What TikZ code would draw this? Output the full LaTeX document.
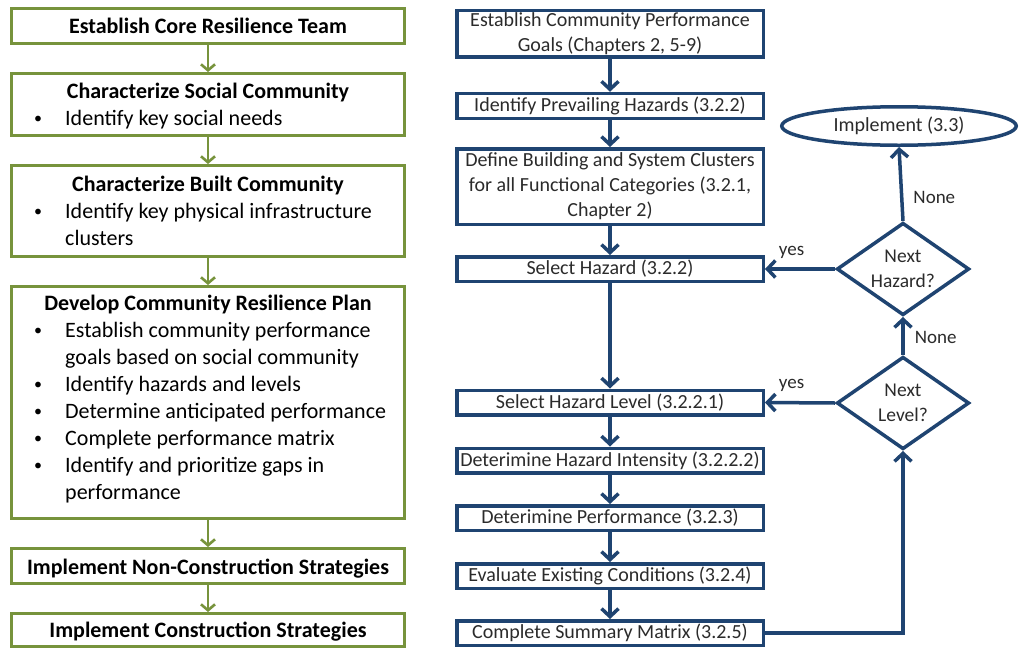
\documentclass[tikz,border=0pt]{standalone}
\usepackage{fontspec}
\setmainfont{Carlito}
\usetikzlibrary{arrows.meta,shapes.geometric}
\definecolor{leafgreen}{HTML}{77933C}
\definecolor{navy}{HTML}{1F4471}
\definecolor{inkgray}{HTML}{2B2B2B}

\begin{document}
\begin{tikzpicture}[x=1pt,y=-1pt,
  greenbox/.style={draw=leafgreen, line width=3pt, minimum width=393pt, inner sep=0pt},
  head/.style={font=\fontsize{22}{27}\selectfont\bfseries, anchor=base, inner sep=0pt, text=black},
  bodyline/.style={font=\fontsize{22}{27}\selectfont, anchor=base west, inner sep=0pt, text=black},
  bulletmark/.style={font=\fontsize{16}{20}\selectfont, anchor=base, inner sep=0pt, text=black, yshift=1.5pt},
  garrow/.style={draw=leafgreen, line width=2.6pt, -{Straight Barb[length=6pt,width=14pt]}},
  bluebox/.style={draw=navy, line width=3.5pt, minimum width=306.5pt, inner sep=0pt,
    align=center, font=\fontsize{20}{25}\selectfont, text=inkgray},
  decision/.style={draw=navy, line width=3.5pt, diamond, aspect=1.43, inner sep=0pt,
    minimum width=132.5pt, minimum height=92.5pt, align=center,
    font=\fontsize{19.5}{25}\selectfont, text=inkgray},
  terminal/.style={draw=navy, line width=3.5pt, ellipse, inner sep=0pt,
    minimum width=234.5pt, minimum height=38.5pt, font=\fontsize{20}{25}\selectfont, text=inkgray},
  barrow/.style={draw=navy, line width=3.5pt, -{Straight Barb[length=8pt,width=17pt]}},
  lbl/.style={font=\fontsize{19}{23}\selectfont, text=inkgray, inner sep=0pt}
]
\fill[white] (0,0) rectangle (1021,651);
\useasboundingbox (0,0) rectangle (1021,651);

% ---------- left column: community resilience planning steps ----------
\node[greenbox, minimum height=35pt] (L1) at (208,26) {};
\node[greenbox, minimum height=62pt] (L2) at (208,104.5) {};
\node[greenbox, minimum height=91pt] (L3) at (208,211) {};
\node[greenbox, minimum height=232pt] (L4) at (208,402.5) {};
\node[greenbox, minimum height=35pt] (L5) at (208,566) {};
\node[greenbox, minimum height=33pt] (L6) at (208,630) {};

\node[head] (h1) at (208,33) {Establish Core Resilience Team};

\node[head] (h2) at (208,98) {Characterize Social Community};
\node[bulletmark] (b2a) at (38,125) {•};
\node[bodyline] (t2a) at (65,125) {Identify key social needs};

\node[head] (h3) at (208,191) {Characterize Built Community};
\node[bulletmark] (b3a) at (38,218) {•};
\node[bodyline] (t3a) at (65,218) {Identify key physical infrastructure};
\node[bodyline] (t3b) at (65,245) {clusters};

\node[head] (h4) at (208,310) {Develop Community Resilience Plan};
\node[bulletmark] (b4a) at (38,337) {•};
\node[bodyline] (t4a) at (65,337) {Establish community performance};
\node[bodyline] (t4b) at (65,364) {goals based on social community};
\node[bulletmark] (b4c) at (38,391) {•};
\node[bodyline] (t4c) at (65,391) {Identify hazards and levels};
\node[bulletmark] (b4d) at (38,418) {•};
\node[bodyline] (t4d) at (65,418) {Determine anticipated performance};
\node[bulletmark] (b4e) at (38,445) {•};
\node[bodyline] (t4e) at (65,445) {Complete performance matrix};
\node[bulletmark] (b4f) at (38,472) {•};
\node[bodyline] (t4f) at (65,472) {Identify and prioritize gaps in};
\node[bodyline] (t4g) at (65,499) {performance};

\node[head] (h5) at (208,574) {Implement Non-Construction Strategies};
\node[head] (h6) at (208,637) {Implement Construction Strategies};

\draw[garrow] (L1) -- (L2);
\draw[garrow] (L2) -- (L3);
\draw[garrow] (L3) -- (L4);
\draw[garrow] (L4) -- (L5);
\draw[garrow] (L5) -- (L6);

% ---------- right column: hazard assessment loop ----------
\node[bluebox, minimum height=46.5pt] (R1) at (610,33.5) {Establish Community Performance\\Goals (Chapters 2, 5-9)};
\node[bluebox, minimum height=25pt] (R2) at (610,106) {Identify Prevailing Hazards (3.2.2)};
\node[bluebox, minimum height=75.5pt] (R3) at (610,186.5) {Define Building and System Clusters\\for all Functional Categories (3.2.1,\\Chapter 2)};
\node[bluebox, minimum height=24.5pt] (R4) at (610,269) {Select Hazard (3.2.2)};
\node[bluebox, minimum height=24.5pt] (R5) at (610,402.5) {Select Hazard Level (3.2.2.1)};
\node[bluebox, minimum height=24.5pt] (R6) at (610,460.5) {Deterimine Hazard Intensity (3.2.2.2)};
\node[bluebox, minimum height=24.5pt] (R7) at (610,518) {Deterimine Performance (3.2.3)};
\node[bluebox, minimum height=24.5pt] (R8) at (610,576) {Evaluate Existing Conditions (3.2.4)};
\node[bluebox, minimum height=24.5pt] (R9) at (610,633) {Complete Summary Matrix (3.2.5)};

\node[terminal] (IM) at (899,126) {Implement (3.3)};
\node[decision] (NH) at (903,269) {Next\\Hazard?};
\node[decision] (NL) at (903,403) {Next\\Level?};

\draw[barrow] (R1) -- (R2);
\draw[barrow] (R2) -- (R3);
\draw[barrow] (R3) -- (R4);
\draw[barrow] (R4) -- (R5);
\draw[barrow] (R5) -- (R6);
\draw[barrow] (R6) -- (R7);
\draw[barrow] (R7) -- (R8);
\draw[barrow] (R8) -- (R9);

\draw[barrow] (R9.east) -| (NL.south);
\draw[barrow] (NL.west) -- (R5.east) node[lbl, pos=0.62, above=9pt] {yes};
\draw[barrow] (NL.north) -- (NH.south) node[lbl, pos=0.47, right=10pt] {None};
\draw[barrow] (NH.west) -- (R4.east) node[lbl, pos=0.62, above=9pt] {yes};
\draw[barrow] (NH.north) -- (IM.south) node[lbl, pos=0.32, right=10pt] {None};
\end{tikzpicture}
\end{document}
